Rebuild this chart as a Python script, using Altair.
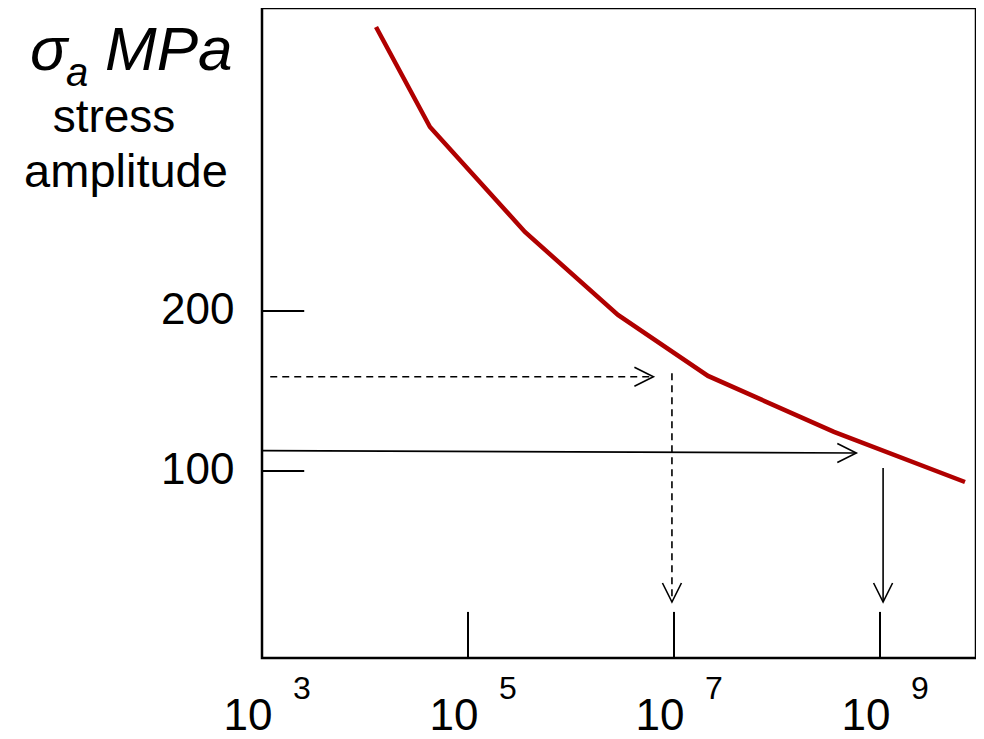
import altair as alt
import pandas as pd

# S-N curve (x = log10 of cycles, y = stress amplitude in MPa)
curve_log_n = [4.107, 4.631, 5.553, 6.456, 7.330, 8.553, 9.825]
curve_stress = [377.5, 315.0, 249.4, 197.5, 159.4, 124.4, 93.1]

# axis ticks / labels
y_tick_values = [100, 200]
x_tick_values = [5, 7, 9]
x_label_decades = [3, 5, 7, 9]
x_label_exponents = ["3", "5", "7", "9"]

# reading arrows
dashed_x = [3.08, 6.98]
dashed_x2 = [6.80, 6.98]
dashed_y = [158.9, 161.0]
dashed_y2 = [158.9, 18.1]
solid_x = [3.0, 9.03]
solid_x2 = [8.77, 9.03]
solid_y = [112.7, 101.9]
solid_y2 = [111.25, 18.1]
head_x = [6.80, 6.98, 8.77, 9.03]
head_y = [158.9, 18.1, 111.25, 18.1]
head_angle = [0, 90, 0, 90]

FONT = "Liberation Sans"
X_DOMAIN = [3, 9.932]
Y_DOMAIN = [-16.9, 389.35]

xs = alt.Scale(domain=X_DOMAIN, nice=False, zero=False)
ys = alt.Scale(domain=Y_DOMAIN, nice=False, zero=False)

curve_df = pd.DataFrame({"logN": curve_log_n, "stress": curve_stress})

curve = alt.Chart(curve_df).mark_line(color="#b00000", strokeWidth=4.5).encode(
    x=alt.X("logN:Q", scale=xs, axis=None),
    y=alt.Y("stress:Q", scale=ys,
            axis=alt.Axis(values=y_tick_values, ticks=False, domain=False, grid=False,
                          labelFont=FONT, labelFontSize=44, labelColor="black",
                          labelPadding=28, title=None, labelBaseline="middle")),
)

# inward y ticks
ytick_df = pd.DataFrame({"y": y_tick_values, "x0": [X_DOMAIN[0]] * 2, "x1": [3.41] * 2})
yticks = alt.Chart(ytick_df).mark_rule(color="black", strokeWidth=2).encode(
    x=alt.X("x0:Q", scale=xs), x2="x1:Q", y=alt.Y("y:Q", scale=ys))

# inward x ticks
xtick_df = pd.DataFrame({"x": x_tick_values, "y0": [Y_DOMAIN[0]] * 3, "y1": [11.9] * 3})
xticks = alt.Chart(xtick_df).mark_rule(color="black", strokeWidth=2).encode(
    x=alt.X("x:Q", scale=xs), y=alt.Y("y0:Q", scale=ys), y2="y1:Q")

dashed_df = pd.DataFrame({"x": dashed_x, "x2": dashed_x2, "y": dashed_y, "y2": dashed_y2})
dashed = alt.Chart(dashed_df).mark_rule(color="black", strokeWidth=1.6, strokeDash=[7, 5]).encode(
    x=alt.X("x:Q", scale=xs), x2="x2:Q", y=alt.Y("y:Q", scale=ys), y2="y2:Q")

solid_df = pd.DataFrame({"x": solid_x, "x2": solid_x2, "y": solid_y, "y2": solid_y2})
solid = alt.Chart(solid_df).mark_rule(color="black", strokeWidth=1.6).encode(
    x=alt.X("x:Q", scale=xs), x2="x2:Q", y=alt.Y("y:Q", scale=ys), y2="y2:Q")

head_df = pd.DataFrame({"x": head_x, "y": head_y, "a": head_angle})
heads = alt.Chart(head_df).mark_point(
    shape="M-1,-0.5L0,0L-1,0.5", filled=False, stroke="black", strokeWidth=1.6,
    size=1444, opacity=1).encode(
    x=alt.X("x:Q", scale=xs), y=alt.Y("y:Q", scale=ys),
    angle=alt.Angle("a:Q", scale=None))

lab_df = pd.DataFrame({"d": x_label_decades, "e": x_label_exponents})
tens = alt.Chart(lab_df).mark_text(
    font=FONT, fontSize=44, color="black", align="center", baseline="alphabetic", dx=-14).encode(
    x=alt.X("d:Q", scale=xs), y=alt.value(722), text=alt.value("10"))
exps = alt.Chart(lab_df).mark_text(
    font=FONT, fontSize=32, color="black", align="center", baseline="alphabetic", dx=40).encode(
    x=alt.X("d:Q", scale=xs), y=alt.value(691), text="e:N")

title_df = pd.DataFrame({"t": ["σ"]})
sigma = alt.Chart(title_df).mark_text(
    font=FONT, fontSize=62, fontStyle="italic", color="black", align="left", baseline="alphabetic").encode(
    x=alt.value(-232), y=alt.value(62), text=alt.value("σ"))
sub_a = alt.Chart(title_df).mark_text(
    font=FONT, fontSize=40, fontStyle="italic", color="black", align="left", baseline="alphabetic").encode(
    x=alt.value(-196), y=alt.value(78), text=alt.value("a"))
mpa = alt.Chart(title_df).mark_text(
    font=FONT, fontSize=62, fontStyle="italic", color="black", align="left", baseline="alphabetic").encode(
    x=alt.value(-157), y=alt.value(62), text=alt.value("MPa"))
stress_t = alt.Chart(title_df).mark_text(
    font=FONT, fontSize=46, color="black", align="center", baseline="alphabetic").encode(
    x=alt.value(-148), y=alt.value(124), text=alt.value("stress"))
ampl_t = alt.Chart(title_df).mark_text(
    font=FONT, fontSize=47, color="black", align="center", baseline="alphabetic").encode(
    x=alt.value(-136), y=alt.value(179), text=alt.value("amplitude"))

chart = alt.layer(
    curve, yticks, xticks, dashed, solid, heads, tens, exps, sigma, sub_a, mpa, stress_t, ampl_t
).properties(
    width=714, height=650,
    padding={"left": 254, "top": 0, "right": 0, "bottom": 81},
    autosize=alt.AutoSizeParams(type="none"),
).configure_view(stroke="black", strokeWidth=2.5)

chart.save("out.html", embed_options={"renderer": "svg", "actions": False})
